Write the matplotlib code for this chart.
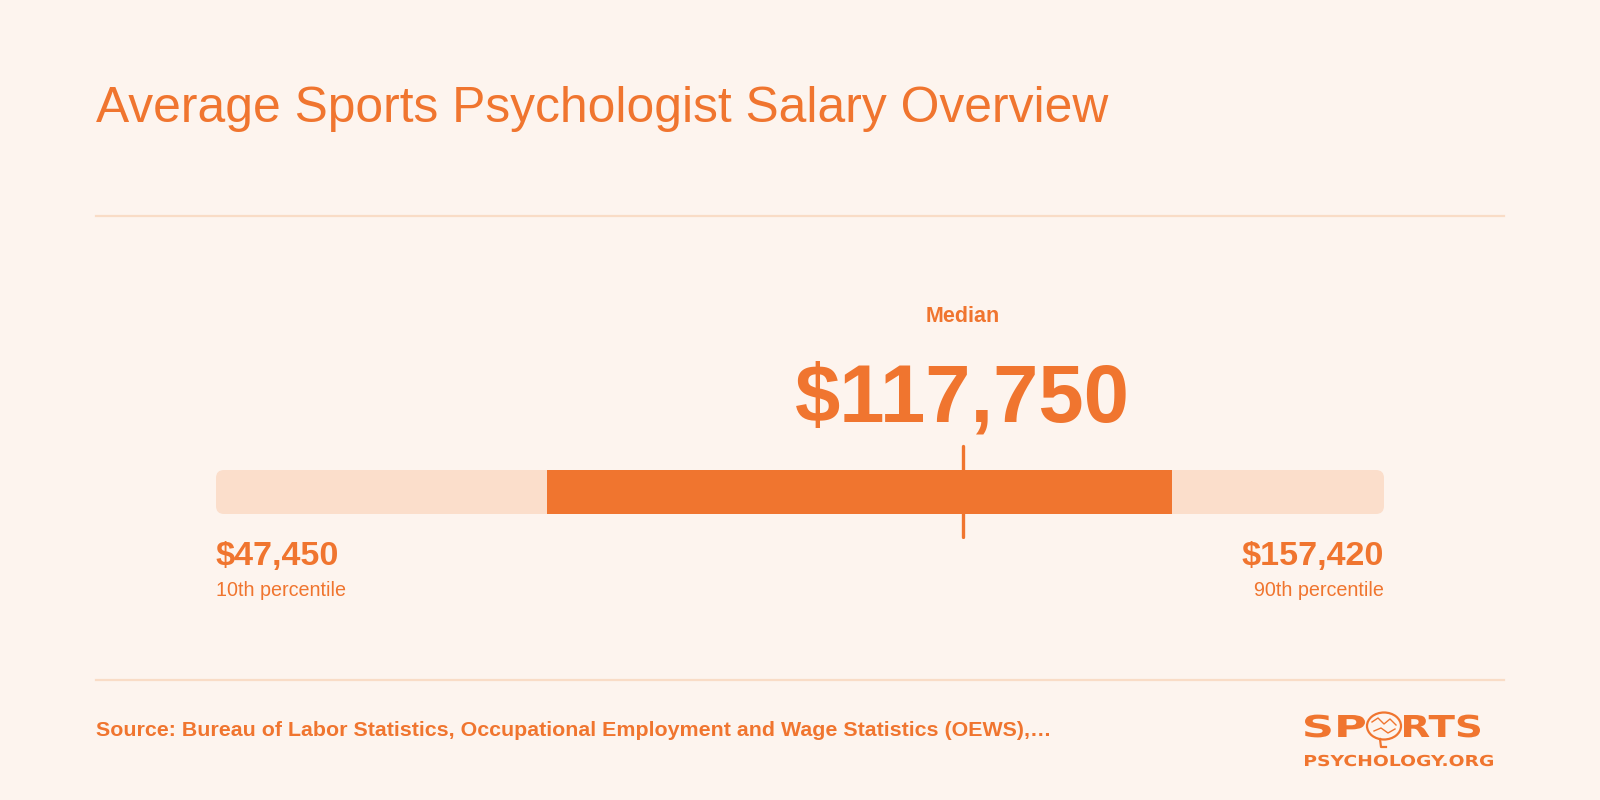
import matplotlib.pyplot as plt
from matplotlib.patches import FancyBboxPatch, Ellipse, PathPatch
from matplotlib.textpath import TextPath
from matplotlib.font_manager import FontProperties
from matplotlib.transforms import blended_transform_factory, Affine2D

# salary data (USD)
p10 = 47450
p25 = 78600
median = 117750
p75 = 137450
p90 = 157420

title = "Average Sports Psychologist Salary Overview"
source = "Source: Bureau of Labor Statistics, Occupational Employment and Wage Statistics (OEWS),\u2026"
low_label = "10th percentile"
high_label = "90th percentile"

ORANGE = "#F0752F"
LIGHT = "#FBDECB"
BG = "#FDF4EE"
RULE = "#F9DCC6"

plt.rcParams['font.family'] = ['Liberation Sans', 'DejaVu Sans']

fig = plt.figure(figsize=(16, 8), dpi=100, facecolor=BG)

# background axes in pixel units (for title, rules, source, logo)
bg = fig.add_axes([0, 0, 1, 1])
bg.set_xlim(0, 1600)
bg.set_ylim(800, 0)
bg.axis('off')
bg.set_facecolor(BG)

bg.text(96, 122, title, fontsize=35.8, color=ORANGE, ha='left', va='baseline')
bg.plot([96, 1504], [216, 216], color=RULE, lw=1.6)
bg.plot([96, 1504], [680, 680], color=RULE, lw=1.6)
bg.text(96, 736, source, fontsize=15.4, fontweight='bold', color=ORANGE,
        ha='left', va='baseline')


def logo_text(s, x0, baseline, width, cap):
    # wide geometric lettering: stretch a text path into the given box
    fp = FontProperties(family='DejaVu Sans', weight='bold')
    tp = TextPath((0, 0), s, size=1, prop=fp)
    ext = tp.get_extents()
    sx = width / ext.width
    sy = cap / 0.729
    t = Affine2D().translate(-ext.x0, 0).scale(sx, -sy).translate(x0, baseline)
    bg.add_patch(PathPatch(t.transform_path(tp), fc=ORANGE, ec='none'))


logo_text("SP", 1305, 737, 60, 22)
logo_text("RTS", 1404, 737, 76, 22)
logo_text("PSYCHOLOGY.ORG", 1305, 766, 188, 11)
# brain in place of the O
bg.add_patch(Ellipse((1384, 726), 34, 27, fill=False, ec=ORANGE, lw=1.6))
bg.plot([1380, 1381, 1386], [739, 747, 747], color=ORANGE, lw=1.6)
bg.plot([1372, 1378, 1384, 1390, 1396], [722, 718, 724, 719, 725], color=ORANGE, lw=1.0)
bg.plot([1374, 1381, 1388, 1395], [731, 728, 733, 729], color=ORANGE, lw=1.0)

# salary range axes: x in dollars, y in pixels (top = 444, bottom = 539)
ax = fig.add_axes([216 / 1600, (800 - 539) / 800, 1168 / 1600, 95 / 800])
ax.set_xlim(p10, p90)
ax.set_ylim(95, 0)
ax.axis('off')

px_per_dollar = 1168 / (p90 - p10)
bar = FancyBboxPatch((p10, 26), p90 - p10, 44,
                     boxstyle="round,pad=0,rounding_size=%f" % (8 / px_per_dollar),
                     mutation_aspect=px_per_dollar, fc=LIGHT, ec='none')
ax.add_patch(bar)
ax.barh(48, p75 - p25, left=p25, height=44, color=ORANGE)
ax.plot([median, median], [2, 93], color=ORANGE, lw=2.4, solid_capstyle='round')

tr = blended_transform_factory(ax.transData, bg.transData)
ax.text(median, 322, "Median", transform=tr, fontsize=15.5, fontweight='bold',
        color=ORANGE, ha='center', va='baseline')
ax.text(median, 421, "${:,}".format(median), transform=tr, fontsize=58.6,
        fontweight='bold', color=ORANGE, ha='center', va='baseline')
ax.text(p10, 565, "${:,}".format(p10), transform=tr, fontsize=24.6,
        fontweight='bold', color=ORANGE, ha='left', va='baseline')
ax.text(p10, 596, low_label, transform=tr, fontsize=14.2,
        color=ORANGE, ha='left', va='baseline')
ax.text(p90, 565, "${:,}".format(p90), transform=tr, fontsize=24.6,
        fontweight='bold', color=ORANGE, ha='right', va='baseline')
ax.text(p90, 596, high_label, transform=tr, fontsize=14.2,
        color=ORANGE, ha='right', va='baseline')

fig.savefig('out.png', dpi=100, facecolor=BG)
